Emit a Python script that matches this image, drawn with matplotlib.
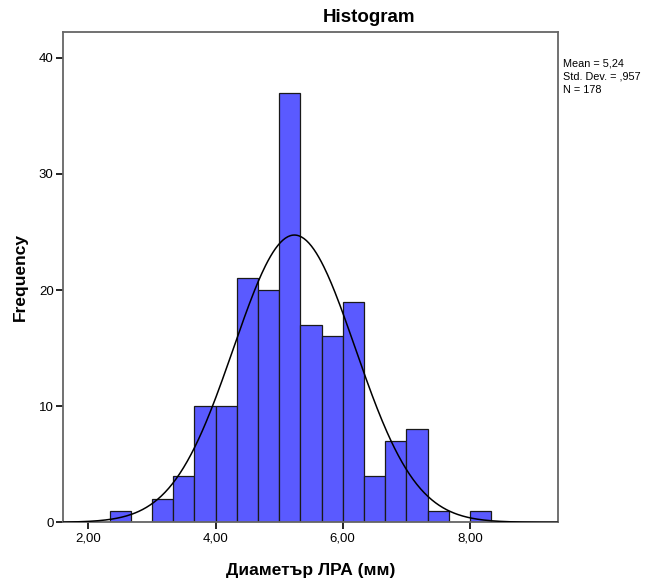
import numpy as np
import matplotlib.pyplot as plt

plt.rcParams['font.family'] = ['Liberation Sans', 'DejaVu Sans']

# histogram bins (width 1/3 mm) and counts
bin_edges = [7/3, 8/3, 9/3, 10/3, 11/3, 12/3, 13/3, 14/3, 15/3, 16/3,
             17/3, 18/3, 19/3, 20/3, 21/3, 22/3, 23/3, 24/3, 25/3]
counts = [1, 0, 2, 4, 10, 10, 21, 20, 37, 17, 16, 19, 4, 7, 8, 1, 0, 1]

mean = 5.24
std = 0.957
n = 178

xticks = [2, 4, 6, 8]
xtick_labels = ['2,00', '4,00', '6,00', '8,00']
yticks = [0, 10, 20, 30, 40]

fig = plt.figure(figsize=(6.61, 5.81), dpi=100)
ax = fig.add_axes([63.3 / 661, 1 - 522.3 / 581, 495 / 661, 490 / 581])

lefts = np.array(bin_edges[:-1])
widths = np.diff(bin_edges)
ax.bar(lefts, counts, width=widths, align='edge', color='#5a5aff',
       edgecolor='#1a1a1a', linewidth=0.9, zorder=2)

# normal curve from mean / std dev, scaled to the histogram
xs = np.linspace(1.606, 9.39, 400)
bw = widths[0]
ys = n * bw / (std * np.sqrt(2 * np.pi)) * np.exp(-0.5 * ((xs - mean) / std) ** 2)
ax.plot(xs, ys, color='black', linewidth=1.1, zorder=3)

ax.set_xlim(1.606, 9.39)
ax.set_ylim(0, 42.19)
ax.set_xticks(xticks)
ax.set_xticklabels(xtick_labels)
ax.set_yticks(yticks)
ax.tick_params(axis='both', direction='out', length=5, width=1.2,
               labelsize=9.5, colors='black', pad=2)
for s in ax.spines.values():
    s.set_color('#666666')
    s.set_linewidth(1.3)

ax.set_xlabel('Диаметър ЛРА (мм)', fontsize=12.5, fontweight='bold', labelpad=14)
ax.set_ylabel('Frequency', fontsize=12.5, fontweight='bold', labelpad=8)

fig.text(369 / 661, 1 - 18 / 581, 'Histogram', ha='center', va='center',
         fontsize=13.5, fontweight='bold')

mean_txt = '{:.2f}'.format(mean).replace('.', ',')
std_txt = '{:.3f}'.format(std).replace('0.', ',')
fig.text(563 / 661, 1 - 58 / 581,
         'Mean = ' + mean_txt + '\nStd. Dev. = ' + std_txt + '\nN = ' + str(n),
         ha='left', va='top', fontsize=7.8, linespacing=1.45)

fig.savefig('out.png', dpi=100)
